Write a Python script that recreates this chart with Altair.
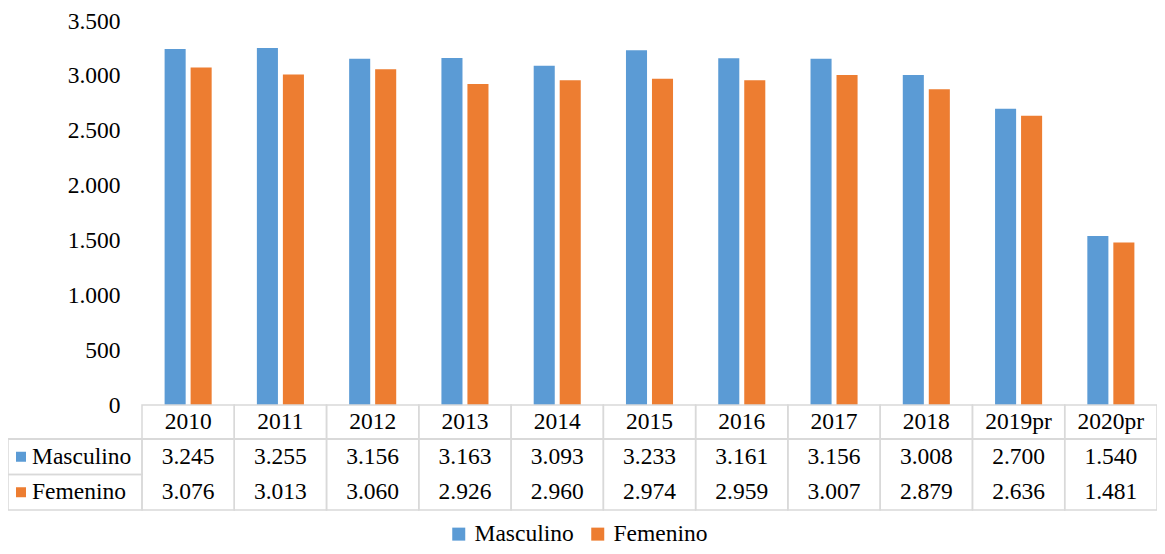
import altair as alt
import pandas as pd

years = ["2010", "2011", "2012", "2013", "2014", "2015", "2016", "2017", "2018", "2019pr", "2020pr"]
masculino = [3245, 3255, 3156, 3163, 3093, 3233, 3161, 3156, 3008, 2700, 1540]
femenino = [3076, 3013, 3060, 2926, 2960, 2974, 2959, 3007, 2879, 2636, 1481]
series = ["Masculino", "Femenino"]
colors = ["#5B9BD5", "#ED7D31"]
y_ticks = [0, 500, 1000, 1500, 2000, 2500, 3000, 3500]

FONT = "Liberation Serif, Times New Roman, DejaVu Serif, serif"
FS = 23.5
GRID = "#d9d9d9"
W = 1015
H = 384


def fmt(v):
    return f"{v:,}".replace(",", ".")


rows = []
for i, yr in enumerate(years):
    rows.append({"year": yr, "sexo": "Masculino", "valor": masculino[i], "label": fmt(masculino[i])})
    rows.append({"year": yr, "sexo": "Femenino", "valor": femenino[i], "label": fmt(femenino[i])})
df = pd.DataFrame(rows)
years_df = pd.DataFrame({"year": years})
series_df = pd.DataFrame({"sexo": series})

color_scale = alt.Scale(domain=series, range=colors)

bars = alt.Chart(df).mark_bar().encode(
    x=alt.X("year:N", sort=years, axis=None,
            scale=alt.Scale(paddingInner=0.49, paddingOuter=0.245)),
    xOffset=alt.XOffset("sexo:N", sort=series,
                        scale=alt.Scale(paddingInner=0.19, paddingOuter=0)),
    y=alt.Y("valor:Q", scale=alt.Scale(domain=[0, 3500], nice=False),
            axis=alt.Axis(values=y_ticks, title=None, grid=False, domain=False, ticks=False,
                          labelFont=FONT, labelFontSize=FS, labelColor="black", labelPadding=22,
                          labelExpr="replace(format(datum.value, ','), ',', '.')")),
    color=alt.Color("sexo:N", scale=color_scale,
                    legend=alt.Legend(title=None, orient="none", legendX=305, legendY=501,
                                      direction="horizontal", symbolType="square", symbolSize=169,
                                      symbolStrokeWidth=0, labelFont=FONT, labelFontSize=FS,
                                      labelColor="black", columnPadding=12, labelOffset=4)),
)

xt = alt.X("year:N", sort=years, axis=None, scale=alt.Scale(paddingInner=0, paddingOuter=0))
yt = alt.Y("sexo:N", sort=series, axis=None,
           scale=alt.Scale(domain=series, range=[418, 489], paddingInner=0, paddingOuter=0))

cells = alt.Chart(years_df).mark_rect(fillOpacity=0, stroke=GRID, strokeWidth=1.5).encode(
    x=xt, y=alt.value(384), y2=alt.value(489)
)
left_col = alt.Chart(series_df).mark_rect(fillOpacity=0, stroke=GRID, strokeWidth=1.5).encode(
    x=alt.value(-134), x2=alt.value(0), y=yt
)
hrule = alt.Chart(years_df).mark_rule(stroke=GRID, strokeWidth=1.5).encode(
    x=alt.value(-134), x2=alt.value(W), y=alt.value(418)
)
header = alt.Chart(years_df).mark_text(font=FONT, fontSize=FS, color="black", baseline="middle").encode(
    x=xt, y=alt.value(401), text="year:N"
)
values = alt.Chart(df).mark_text(font=FONT, fontSize=FS, color="black", baseline="middle").encode(
    x=xt, y=yt, text="label:N"
)
swatches = alt.Chart(series_df).mark_square(size=100, opacity=1).encode(
    x=alt.value(-121), y=yt,
    fill=alt.Fill("sexo:N", scale=alt.Scale(domain=series, range=colors), legend=None)
)
row_labels = alt.Chart(series_df).mark_text(font=FONT, fontSize=FS, color="black",
                                             baseline="middle", align="left").encode(
    x=alt.value(-110), y=yt, text="sexo:N"
)

table = alt.layer(cells, left_col, hrule, header, values, swatches, row_labels)

chart = alt.layer(bars, table).resolve_scale(x="independent", y="independent").properties(
    width=W, height=H,
    autosize=alt.AutoSizeParams(type="none"),
    padding={"left": 134, "top": 13, "right": 0, "bottom": 141},
).configure_view(strokeWidth=0)

chart.save("out.html", embed_options={"renderer": "svg", "actions": False})
